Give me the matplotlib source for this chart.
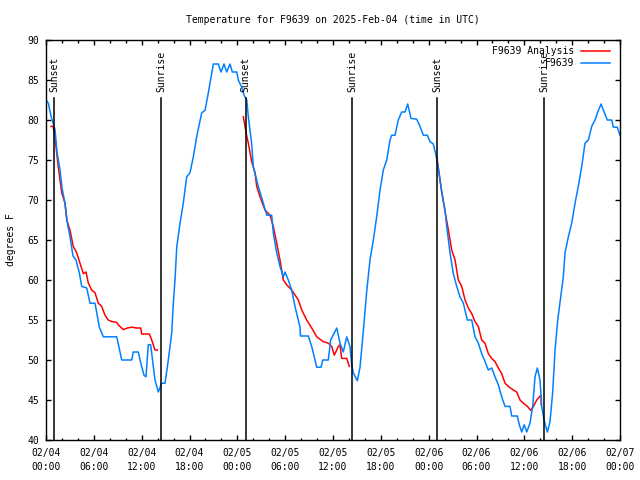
import numpy as np
import pandas as pd
import matplotlib
matplotlib.use("Agg")
import matplotlib.pyplot as plt
import matplotlib.dates as mdates

plt.rcParams['font.family'] = ['DejaVu Sans Mono']
plt.rcParams['font.size'] = 7

start = pd.Timestamp('2025-02-04 00:00')

# observed temperature (hours after start, degrees F)
obs_hours = [0.00, 0.29, 0.63, 1.13, 1.38, 1.76, 2.01, 2.38, 2.70, 3.01, 3.39, 3.76, 4.18, 4.48,
             5.11, 5.52, 6.15, 6.69, 7.19, 8.87, 9.50, 10.75, 10.95, 11.58, 11.79, 12.29, 12.54,
             12.83, 13.13, 13.67, 14.09, 14.51, 14.93, 15.34, 15.77, 15.97, 16.18, 16.40, 16.81,
             17.22, 17.65, 18.06, 18.48, 18.90, 19.53, 19.95, 20.36, 20.99, 21.61, 21.95, 22.33,
             22.67, 23.08, 23.37, 23.92, 24.12, 24.55, 24.84, 25.18, 25.38, 25.80, 26.00, 26.63,
             27.26, 27.69, 28.31, 28.51, 28.94, 29.35, 29.77, 29.98, 30.39, 30.82, 31.23, 31.86,
             31.92, 32.90, 33.33, 33.96, 34.50, 34.71, 35.41, 35.71, 36.47, 36.88, 37.29, 37.72,
             38.13, 38.34, 38.55, 39.05, 39.39, 39.80, 40.23, 40.64, 41.06, 41.48, 41.90, 42.31,
             42.74, 43.15, 43.37, 43.78, 44.19, 44.62, 45.03, 45.37, 45.79, 46.50, 46.92, 47.33,
             47.83, 48.17, 48.58, 48.92, 49.21, 49.64, 50.05, 50.26, 50.47, 50.68, 50.89, 51.09,
             51.52, 51.93, 52.35, 52.85, 53.40, 53.81, 54.23, 54.65, 55.07, 55.48, 55.91, 56.32,
             56.74, 57.16, 57.58, 58.20, 58.42, 59.12, 59.37, 59.67, 59.99, 60.30, 60.71, 61.05,
             61.34, 61.63, 61.97, 62.18, 62.47, 62.89, 63.22, 63.56, 63.85, 64.19, 64.56, 64.89,
             65.10, 65.52, 65.94, 66.36, 66.77, 67.20, 67.61, 68.03, 68.45, 68.87, 69.21, 69.62,
             70.00, 70.41, 70.96, 71.16, 71.66, 72.00]
obs_temp = [82.5, 82.1, 80.5, 78.8, 76.0, 73.75, 71.5, 69.6, 67.0, 65.4, 63.0, 62.5, 60.9, 59.2,
            59.0, 57.1, 57.1, 54.1, 52.9, 52.9, 50.0, 50.0, 51.0, 51.0, 50.0, 48.1, 47.9,
            51.9, 51.9, 47.5, 46.0, 47.1, 47.1, 50.0, 53.4, 57.1, 60.0, 64.1, 67.1,
            69.6, 72.9, 73.4, 75.4, 77.9, 80.9, 81.2, 83.4, 87.0, 87.0, 86.0, 87.0,
            86.0, 87.0, 86.0, 86.0, 85.0, 84.1, 83.1, 82.5, 80.4, 77.0, 74.2, 71.7,
            69.6, 68.1, 68.1, 65.9, 63.4, 61.7, 60.4, 61.0, 60.0, 58.75, 56.7, 54.1,
            53.0, 53.0, 51.7, 49.1, 49.1, 50.0, 50.0, 52.5, 54.0, 52.1, 51.0, 52.9,
            51.7, 49.4, 48.4, 47.4, 49.1, 53.6, 58.6, 62.5, 65.0, 67.9, 71.25, 73.75,
            75.0, 77.5, 78.1, 78.1, 80.0, 81.0, 81.0, 82.0, 80.2, 80.1, 79.2, 78.1,
            78.1, 77.3, 77.0, 75.6, 74.0, 71.0, 68.75, 66.7, 65.0, 63.4, 62.1, 60.8,
            59.2, 57.9, 57.1, 55.0, 55.0, 52.9, 52.1, 50.8, 49.8, 48.75, 49.0, 47.9,
            46.9, 45.4, 44.2, 44.2, 43.0, 43.0, 41.9, 41.0, 41.9, 41.0, 42.1, 44.2,
            47.9, 49.0, 47.5, 44.2, 42.5, 41.0, 42.3, 46.0, 51.25, 55.0, 57.9, 60.4,
            63.4, 65.4, 67.1, 69.6, 71.7, 74.2, 77.1, 77.5, 79.2, 80.0, 81.0, 82.0,
            81.0, 80.0, 80.0, 79.1, 79.1, 78.1]

# analysis (night-time segments, nan separates them)
ana_hours = [0.63, 0.88, 1.13, 1.34, 1.54, 1.97, 2.38, 2.60, 3.01, 3.42, 3.85, 4.26, 4.68, 5.02,
             5.31, 5.73, 6.15, 6.56, 6.99, 7.40, 7.81, 8.24, 8.87, 9.07, 9.70, 10.20, 10.75,
             11.38, 11.88, 12.00, 12.96, 13.26, 13.67, 13.96, np.nan,
             24.75, 25.18, 25.38, 25.80, 26.22, 26.43, 26.84, 27.47, 28.10, 28.51, 28.94, 29.35,
             29.77, 30.19, 30.82, 31.65, 32.08, 32.70, 33.33, 33.96, 34.78, 35.41, 35.84, 36.16,
             36.67, 36.88, 37.09, 37.72, 38.05, np.nan,
             49.01, 49.64, 50.05, 50.47, 50.89, 51.31, 51.72, 52.15, 52.56, 52.98, 53.40, 53.81,
             54.23, 54.65, 55.07, 55.48, 55.91, 56.32, 56.74, 57.16, 57.58, 57.99, 58.62, 59.04,
             59.46, 59.87, 60.39, 60.81, 61.14, 61.56, 61.97, 62.10, 62.12]
ana_temp = [79.2, 79.2, 77.9, 75.9, 74.2, 70.9, 69.6, 67.5, 66.25, 64.2, 63.4, 62.1, 60.8, 61.0,
            59.6, 58.75, 58.4, 57.1, 56.7, 55.6, 55.0, 54.8, 54.7, 54.4, 53.8, 54.0, 54.1,
            54.0, 54.0, 53.25, 53.25, 52.5, 51.25, 51.25, np.nan,
            80.4, 78.0, 77.1, 74.8, 73.4, 71.7, 70.4, 68.75, 68.1, 66.7, 64.6, 62.5,
            60.0, 59.4, 58.75, 57.5, 56.25, 55.0, 54.0, 52.9, 52.3, 52.1, 51.7, 50.6,
            51.7, 51.9, 50.2, 50.2, 49.2, np.nan,
            75.4, 71.0, 68.6, 66.25, 63.75, 62.5, 60.0, 59.2, 57.5, 56.5, 55.8, 54.8,
            54.2, 52.5, 52.1, 50.8, 50.2, 49.8, 49.0, 48.3, 47.1, 46.7, 46.25, 46.0,
            45.0, 44.6, 44.2, 43.7, 44.2, 45.0, 45.5, 45.5, 44.4]

event_hours = [1.04, 14.43, 25.05, 38.42, 49.09, 62.51]
event_names = ['Sunset', 'Sunrise', 'Sunset', 'Sunrise', 'Sunset', 'Sunrise']

obs_t = start + pd.to_timedelta(obs_hours, unit='h')
ana_t = start + pd.to_timedelta(np.array(ana_hours, dtype=float), unit='h')

fig = plt.figure(figsize=(6.4, 4.8), dpi=100)
fig.subplots_adjust(left=46/640, right=620/640, bottom=40/480, top=440/480)
ax = fig.add_subplot(1, 1, 1)

ax.plot(ana_t, ana_temp, color='#ff0000', lw=1.1, label='F9639 Analysis')
ax.plot(obs_t, obs_temp, color='#0080ff', lw=1.1, label='F9639')

# sunrise / sunset markers
for h, name in zip(event_hours, event_names):
    t = start + pd.Timedelta(hours=h)
    ax.plot([t, t], [0, 0.855], color='black', lw=1.1, transform=ax.get_xaxis_transform())
    ax.text(t, 0.87, name, rotation=90, ha='center', va='bottom',
            transform=ax.get_xaxis_transform())

ax.set_xlim(start, start + pd.Timedelta(hours=72))
ax.set_ylim(40, 90)
ax.set_yticks(np.arange(40, 91, 5))
ax.xaxis.set_major_locator(mdates.HourLocator(byhour=[0, 6, 12, 18]))
ax.xaxis.set_minor_locator(mdates.HourLocator(interval=2))
ax.xaxis.set_major_formatter(mdates.DateFormatter('%m/%d\n%H:%M'))
ax.tick_params(which='both', direction='in', top=True, right=True, width=1.0)
ax.tick_params(which='major', length=3.5)
ax.tick_params(which='minor', length=1.8)
ax.tick_params(axis='x', pad=6)
ax.tick_params(axis='y', pad=5)
for lbl in ax.get_xticklabels():
    lbl.set_linespacing(1.5)
for s in ax.spines.values():
    s.set_linewidth(1.0)

ax.set_ylabel('degrees F', labelpad=8)
ax.set_title('Temperature for F9639 on 2025-Feb-04 (time in UTC)', fontsize=7, pad=12)
ax.legend(loc='upper right', bbox_to_anchor=(0.983, 0.985), frameon=False, markerfirst=False,
          handlelength=3.0, handletextpad=0.7, labelspacing=0.25, borderpad=0,
          borderaxespad=0)

plt.savefig('out.png', dpi=100)
